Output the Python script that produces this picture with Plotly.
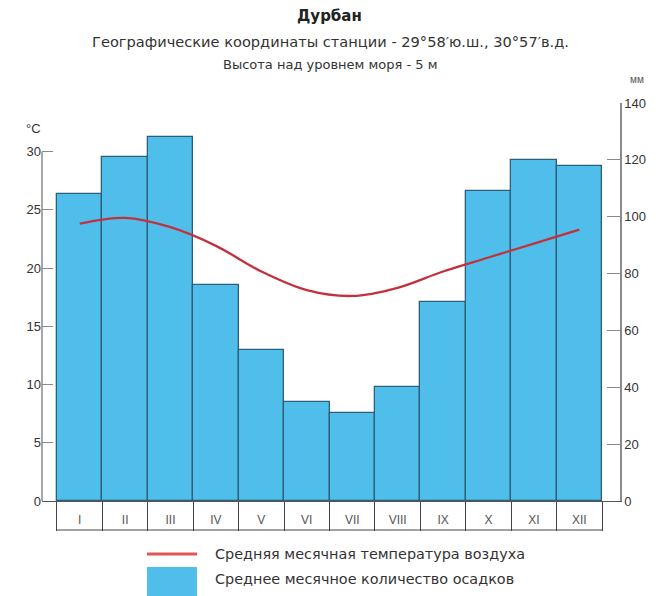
import plotly.graph_objects as go

months = ["I", "II", "III", "IV", "V", "VI", "VII", "VIII", "IX", "X", "XI", "XII"]
precip_mm = [108, 121, 128, 76, 53, 35, 31, 40, 70, 109, 120, 118]
temp_c = [23.8, 24.3, 23.5, 21.9, 19.7, 18.1, 17.6, 18.3, 19.7, 20.9, 22.1, 23.3]
temp_ticks = [0, 5, 10, 15, 20, 25, 30]
precip_ticks = [0, 20, 40, 60, 80, 100, 120, 140]

title = "Дурбан"
sub1 = "Географические координаты станции - 29°58′ю.ш., 30°57′в.д."
sub2 = "Высота над уровнем моря - 5 м"
legend_temp = "Средняя месячная температура воздуха"
legend_prec = "Среднее месячное количество осадков"

idx = list(range(len(months)))
boundaries = [i - 0.5 for i in range(len(months) + 1)]

BAR_FILL = "#50BEEA"
BAR_LINE = "#2E5E78"
RED = "#C2323C"
AXIS = "#8A8A8A"
TXT = "#333333"
FONT = "Liberation Sans, Arial, sans-serif"
WIDE = "DejaVu Sans, Liberation Sans, sans-serif"

W, H = 664, 596
ml, mr, mt, mb = 42, 44, 103, 95
plot_h = H - mt - mb

fig = go.Figure()
fig.add_trace(go.Bar(
    x=idx, y=precip_mm, width=1, yaxis="y",
    marker=dict(color=BAR_FILL, line=dict(color=BAR_LINE, width=1.3)),
    showlegend=False, hoverinfo="y",
))
fig.add_trace(go.Scatter(
    x=idx, y=temp_c, yaxis="y2", mode="lines",
    line=dict(color=RED, width=2.3, shape="spline", smoothing=1),
    showlegend=False, hoverinfo="y",
))

fig.update_layout(
    width=W, height=H,
    margin=dict(l=ml, r=mr, t=mt, b=mb, autoexpand=False),
    paper_bgcolor="white", plot_bgcolor="white",
    font=dict(family=FONT, color=TXT, size=13),
    bargap=0,
    xaxis=dict(
        range=[-0.83, 11.896], tickmode="array", tickvals=idx, ticktext=months,
        ticks="", showgrid=False, zeroline=False, automargin=False,
        showline=True, linecolor="#555555", linewidth=1.3,
        tickfont=dict(size=12, color="#555555"),
        ticklabelstandoff=7,
        minor=dict(tickmode="array", tickvals=boundaries, ticks="outside",
                   ticklen=29, tickcolor="#444444", tickwidth=1.2),
    ),
    yaxis=dict(
        side="right", range=[0, 140], tickmode="array", tickvals=precip_ticks,
        ticks="inside", ticklen=13, tickcolor=AXIS, tickwidth=1.2,
        showline=True, linecolor=AXIS, linewidth=1.5, automargin=False,
        showgrid=False, zeroline=False,
        tickfont=dict(size=13, color=TXT),
    ),
    yaxis2=dict(
        overlaying="y", side="left", automargin=False,
        range=[0, 30 * plot_h / 349.5], tickmode="array", tickvals=temp_ticks,
        ticks="inside", ticklen=11, tickcolor=AXIS, tickwidth=1.2,
        showline=False, showgrid=False, zeroline=False,
        tickfont=dict(size=13, color=TXT),
    ),
)

# left axis line (only up to 30 °C)
fig.add_shape(type="line", xref="paper", yref="y2", x0=0, x1=0, y0=0, y1=30,
              line=dict(color=AXIS, width=1.5))
# bottom line of month table
tbl_y = -29 / plot_h
fig.add_shape(type="line", xref="x", yref="paper", x0=-0.5, x1=11.5, y0=tbl_y, y1=tbl_y,
              line=dict(color="#444444", width=1.2))


def px_x(v):
    return (v - ml) / (W - ml - mr)


def px_y(v):
    return (H - v - mb) / plot_h


def note(text, x, y, size, color=TXT, family=WIDE, anchor="center"):
    fig.add_annotation(text=text, xref="paper", yref="paper", x=px_x(x), y=px_y(y),
                       xanchor=anchor, yanchor="middle", showarrow=False,
                       font=dict(size=size, color=color, family=family))


note("<b>" + title + "</b>", 329, 16, 15, "#222222")
note(sub1, 330, 41, 14.6)
note(sub2, 330, 65, 13)
note("°C", 33, 128, 13, family=FONT)
note("мм", 637, 80, 10, "#555555", family=FONT)

# legend
fig.add_shape(type="line", xref="paper", yref="paper",
              x0=px_x(147), x1=px_x(197), y0=px_y(554), y1=px_y(554),
              line=dict(color="#E05555", width=3))
fig.add_shape(type="rect", xref="paper", yref="paper",
              x0=px_x(147), x1=px_x(197), y0=px_y(567), y1=px_y(598),
              fillcolor=BAR_FILL, line=dict(width=0))
note(legend_temp, 213, 554, 14.4, anchor="left")
note(legend_prec, 213, 579, 14.4, anchor="left")

fig.write_html("out.html", post_script="document.body.style.margin='0';",
               config={"displayModeBar": False})
